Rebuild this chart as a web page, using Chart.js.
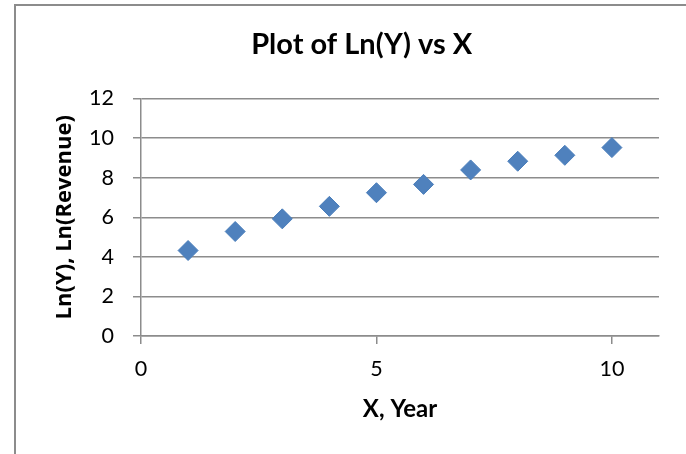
<!DOCTYPE html>
<html>
<head>
<meta charset="utf-8">
<script src="https://cdn.jsdelivr.net/npm/chart.js@4/dist/chart.umd.min.js"></script>
<style>
  html, body { margin: 0; padding: 0; background: #ffffff; }
  #wrap { position: relative; width: 686px; height: 454px; }
</style>
</head>
<body>
<div id="wrap"><canvas id="c" width="686" height="454"></canvas></div>
<script>
// Year number and natural log of revenue for each year
const years = [1, 2, 3, 4, 5, 6, 7, 8, 9, 10];
const lnRevenue = [4.32, 5.28, 5.92, 6.55, 7.24, 7.66, 8.39, 8.83, 9.13, 9.52];

const chartTitle = 'Plot of Ln(Y) vs X';
const xTitle = 'X, Year';
const yTitle = 'Ln(Y), Ln(Revenue)';

const axisGray = '#8c8c8c';
const fontFamily = 'Lato, "Open Sans", sans-serif';

const points = years.map((x, i) => ({ x: x, y: lnRevenue[i] }));

// Outer frame of the chart object (left and top edges)
const framePlugin = {
  id: 'frame',
  beforeDraw(chart) {
    const ctx = chart.ctx;
    ctx.save();
    ctx.fillStyle = '#ffffff';
    ctx.fillRect(0, 0, chart.width, chart.height);
    ctx.strokeStyle = axisGray;
    ctx.lineWidth = 2;
    ctx.beginPath();
    ctx.moveTo(15, chart.height);
    ctx.lineTo(15, 5);
    ctx.lineTo(chart.width, 5);
    ctx.stroke();
    ctx.restore();
  }
};

new Chart(document.getElementById('c'), {
  type: 'scatter',
  data: {
    datasets: [{
      data: points,
      pointStyle: 'rectRot',
      pointRadius: 10,
      pointHoverRadius: 10,
      backgroundColor: '#4F81BD',
      borderColor: '#4A7EBB',
      borderWidth: 1
    }]
  },
  plugins: [framePlugin],
  options: {
    responsive: false,
    devicePixelRatio: 1,
    animation: false,
    events: [],
    layout: { padding: { left: 64.4, right: 27, top: 0, bottom: 0 } },
    plugins: {
      legend: { display: false },
      tooltip: { enabled: false },
      title: {
        display: true,
        text: chartTitle,
        color: '#000000',
        font: { family: fontFamily, size: 29, weight: 'bold', lineHeight: 1.2 },
        padding: { top: 26.8, bottom: 36.9 }
      }
    },
    scales: {
      x: {
        type: 'linear',
        position: 'bottom',
        min: 0,
        max: 11,
        afterFit(scale) { scale.height = 118; },
        ticks: {
          stepSize: 5,
          includeBounds: false,
          color: '#000000',
          padding: 11.7,
          font: { family: fontFamily, size: 21.5, lineHeight: 1.2 }
        },
        grid: {
          drawOnChartArea: false,
          drawTicks: true,
          tickLength: 8,
          color: axisGray,
          lineWidth: 1.5
        },
        border: { display: true, color: axisGray, width: 1.5 },
        title: {
          display: true,
          text: xTitle,
          color: '#000000',
          font: { family: fontFamily, size: 24, weight: 'bold', lineHeight: 1.2 },
          padding: { top: 0, bottom: 30.2 }
        }
      },
      y: {
        type: 'linear',
        position: 'left',
        min: 0,
        max: 12,
        afterFit(scale) { scale.width = 76.6; },
        ticks: {
          stepSize: 2,
          color: '#000000',
          padding: 19,
          font: { family: fontFamily, size: 21.5, lineHeight: 1.2 }
        },
        grid: {
          drawOnChartArea: true,
          drawTicks: true,
          tickLength: 8,
          color: axisGray,
          lineWidth: 1.5
        },
        border: { display: true, color: axisGray, width: 1.5 },
        title: {
          display: true,
          text: yTitle,
          color: '#000000',
          font: { family: '"Open Sans", Lato, sans-serif', size: 22, weight: 'bold', lineHeight: 1.2 },
          padding: { top: -13.1, bottom: 0 }
        }
      }
    }
  }
});
</script>
</body>
</html>
